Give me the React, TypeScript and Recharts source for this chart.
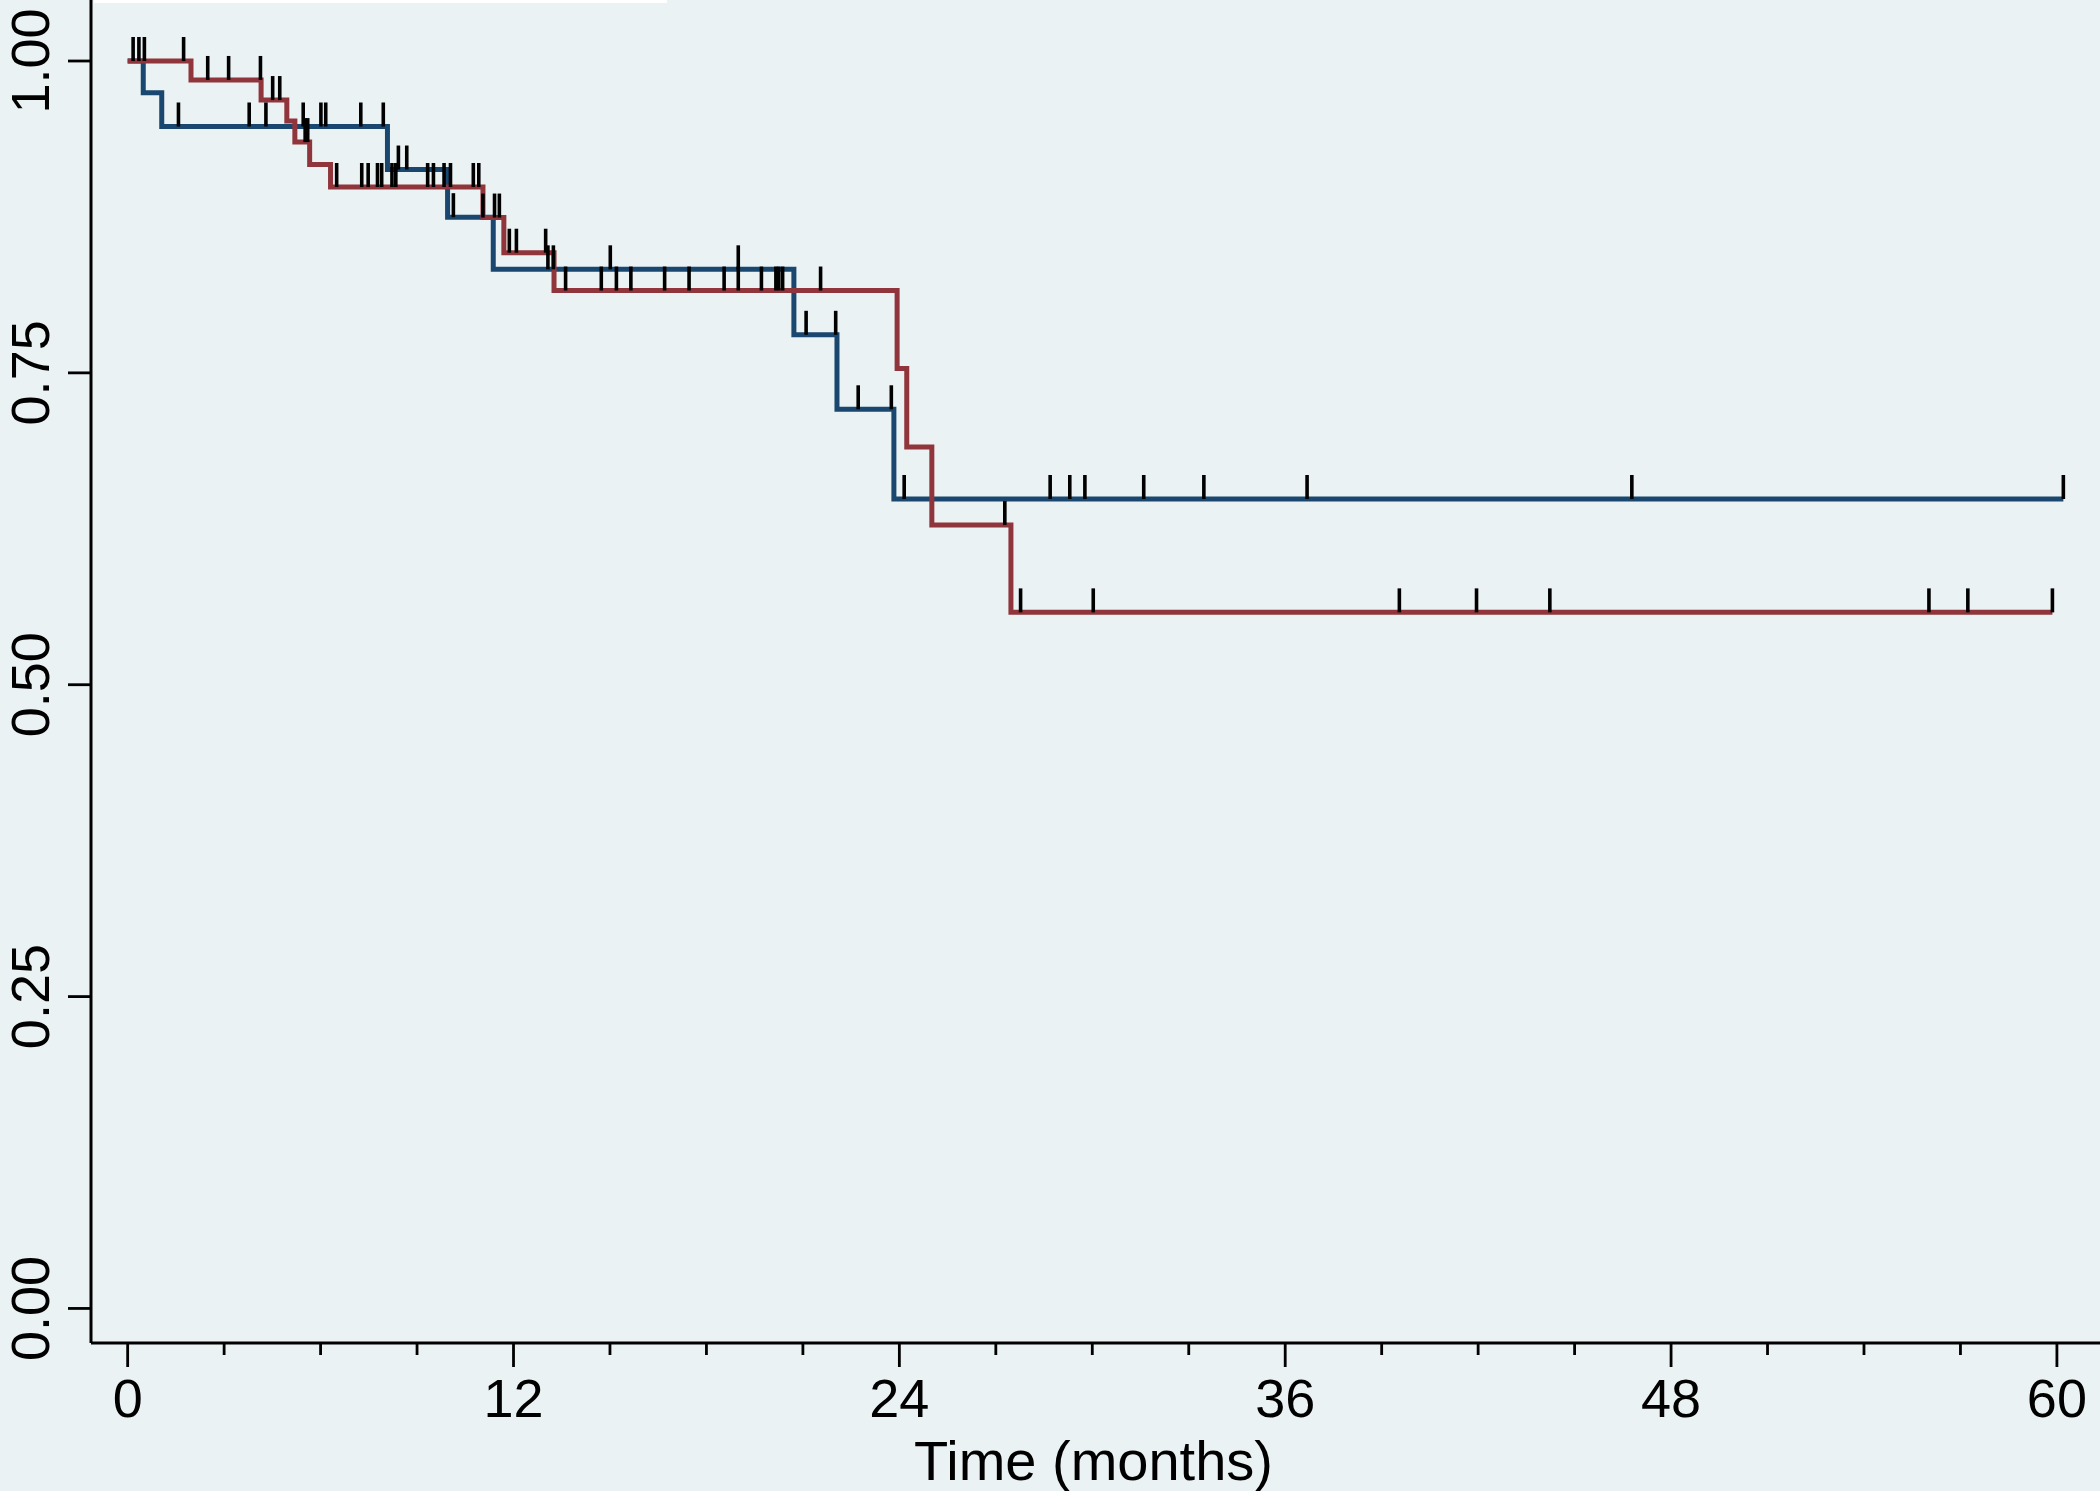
import React from 'react';
import { ComposedChart, Line, Scatter, XAxis, YAxis } from 'recharts';

// Kaplan-Meier curves: time of each step (months) and survival after it
const navyTimes = [0, 0.485, 1.06, 8.08, 9.95, 11.37, 20.72, 22.06, 23.83, 60.2];
const navySurv = [1, 0.9746, 0.9475, 0.913, 0.8748, 0.833, 0.7805, 0.7208, 0.6489, 0.6489];

const maroonTimes = [0, 1.97, 4.15, 4.95, 5.2, 5.66, 6.31, 11.05, 11.7, 13.26, 23.93, 24.23, 25.01, 27.47, 59.86];
const maroonSurv = [1, 0.9848, 0.9687, 0.952, 0.935, 0.917, 0.899, 0.8745, 0.8463, 0.816, 0.7535, 0.6905, 0.628, 0.558, 0.558];

// censoring times
const navyCensored = [
  0.17, 0.35, 1.58, 3.78, 4.3, 5.46, 6.01, 6.16, 7.25, 7.95, 8.42, 8.68, 10.13,
  13.07, 13.24, 15.01, 18.99, 21.1, 22.02, 22.72, 23.75, 24.15, 28.69, 29.3,
  29.77, 31.6, 33.47, 36.68, 46.78, 60.2,
];
const maroonCensored = [
  0.52, 1.74, 2.49, 3.14, 4.13, 4.51, 4.73, 5.52, 5.6, 6.5, 7.28, 7.48, 7.77,
  7.9, 8.22, 8.34, 9.33, 9.51, 9.84, 10.04, 10.75, 10.92, 11.05, 11.41, 11.56,
  11.87, 12.09, 13.0, 13.62, 14.73, 15.2, 15.65, 16.7, 17.46, 18.55, 18.99,
  19.71, 20.16, 20.25, 20.37, 21.55, 27.28, 27.77, 30.03, 39.55, 41.95, 44.23,
  56.02, 57.23, 59.86,
];

const xTicks = [0, 3, 6, 9, 12, 15, 18, 21, 24, 27, 30, 33, 36, 39, 42, 45, 48, 51, 54, 57, 60];
const xLabelEvery = 12;
const yTicks = [0, 0.25, 0.5, 0.75, 1];

const FONT = '"Liberation Sans", Arial, Helvetica, sans-serif';
const BG = '#EAF2F3';
const NAVY = '#1A476F';
const MAROON = '#90353B';

const toPoints = (times: number[], surv: number[]) =>
  times.map((t, i) => ({ t, s: surv[i] }));

const levelAt = (times: number[], surv: number[], t: number) => {
  let s = surv[0];
  times.forEach((tt, i) => {
    if (tt <= t) s = surv[i];
  });
  return s;
};

const navyData = toPoints(navyTimes, navySurv);
const maroonData = toPoints(maroonTimes, maroonSurv);
const navyMarks = navyCensored.map((t) => ({ t, s: levelAt(navyTimes, navySurv, t) }));
const maroonMarks = maroonCensored.map((t) => ({ t, s: levelAt(maroonTimes, maroonSurv, t) }));

const CensorMark = (props: any) => {
  const { cx, cy } = props;
  return <line x1={cx} x2={cx} y1={cy} y2={cy - 24} stroke="#000" strokeWidth={3.6} />;
};

const XTick = (props: any) => {
  const { x, y, payload } = props;
  const major = payload.value % xLabelEvery === 0;
  return (
    <g>
      <line x1={x} x2={x} y1={y} y2={y + (major ? 24 : 12)} stroke="#000" strokeWidth={2.8} />
      {major && (
        <text x={x} y={y + 74} textAnchor="middle" fontSize={54} fontFamily={FONT} fill="#000">
          {payload.value}
        </text>
      )}
    </g>
  );
};

const YTick = (props: any) => {
  const { x, y, payload } = props;
  const tx = x - 42;
  return (
    <g>
      <line x1={x - 23} x2={x} y1={y} y2={y} stroke="#000" strokeWidth={2.8} />
      <text
        x={tx}
        y={y}
        transform={`rotate(-90 ${tx} ${y})`}
        textAnchor="middle"
        fontSize={54}
        fontFamily={FONT}
        fill="#000"
      >
        {Number(payload.value).toFixed(2)}
      </text>
    </g>
  );
};

const AxisTitle = (props: any) => {
  const vb = props.viewBox;
  return (
    <text
      x={vb.x + vb.width / 2 - 2}
      y={vb.y + vb.height - 11}
      textAnchor="middle"
      fontSize={56}
      fontFamily={FONT}
      fill="#000"
    >
      Time (months)
    </text>
  );
};

export default function App() {
  return (
    <div style={{ position: 'absolute', left: 0, top: 0, width: 2100, height: 1491, background: BG }}>
      <div style={{ position: 'absolute', left: 94, top: 0, width: 573, height: 3, background: '#fff' }} />
      <ComposedChart width={2100} height={1491} margin={{ top: 0, right: 0, bottom: 0, left: 0 }}>
        <XAxis
          dataKey="t"
          type="number"
          domain={[-1.14, 61.34]}
          ticks={xTicks}
          interval={0}
          allowDataOverflow
          height={148}
          tickSize={0}
          tickMargin={0}
          tickLine={false}
          tick={<XTick />}
          axisLine={{ stroke: '#000', strokeWidth: 3 }}
          label={{ content: AxisTitle }}
        />
        <YAxis
          dataKey="s"
          type="number"
          domain={[-0.0277, 1.0489]}
          ticks={yTicks}
          interval={0}
          allowDataOverflow
          width={91}
          tickSize={0}
          tickMargin={0}
          tickLine={false}
          tick={<YTick />}
          axisLine={{ stroke: '#000', strokeWidth: 3 }}
        />
        <Line
          data={navyData}
          dataKey="s"
          type="stepAfter"
          stroke={NAVY}
          strokeWidth={5}
          dot={false}
          activeDot={false}
          isAnimationActive={false}
        />
        <Line
          data={maroonData}
          dataKey="s"
          type="stepAfter"
          stroke={MAROON}
          strokeWidth={5}
          dot={false}
          activeDot={false}
          isAnimationActive={false}
        />
        <Scatter data={navyMarks} dataKey="s" shape={<CensorMark />} isAnimationActive={false} />
        <Scatter data={maroonMarks} dataKey="s" shape={<CensorMark />} isAnimationActive={false} />
      </ComposedChart>
    </div>
  );
}
